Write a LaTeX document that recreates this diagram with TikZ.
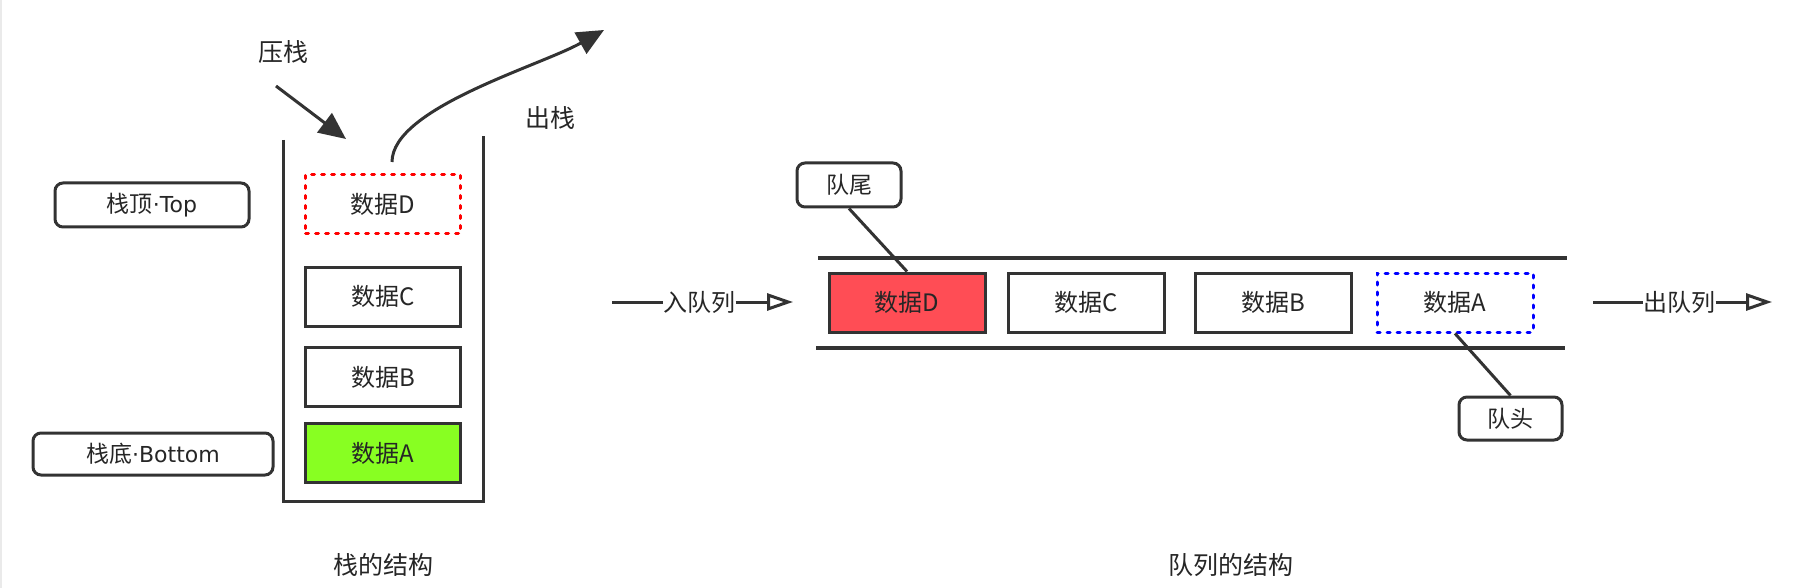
\documentclass[tikz,border=0pt]{standalone}
\usepackage{fontspec}
\setmainfont{Noto Sans CJK SC}
\newfontfamily\latinfont{DejaVu Sans}
\usetikzlibrary{arrows.meta}
\definecolor{ink}{HTML}{333333}
\definecolor{txt}{HTML}{262626}
\definecolor{redfill}{HTML}{FF4D55}
\definecolor{greenfill}{HTML}{88FF22}
\tikzset{
  databox/.style={draw=ink, line width=3pt, minimum width=155pt, minimum height=59pt, inner sep=0pt, font=\fontsize{24}{27}\selectfont, text=txt},
  redtop/.style={databox, draw=red, dash pattern=on 3pt off 7pt, line cap=round},
  bluehead/.style={databox, draw=blue, dash pattern=on 3pt off 7pt, line cap=round},
  callout/.style={draw=ink, line width=3pt, rounded corners=8pt, inner sep=0pt, font=\fontsize{23}{26}\selectfont, text=txt},
  lbl/.style={inner sep=0pt, font=\fontsize{24}{27}\selectfont, text=txt},
  title/.style={inner sep=0pt, font=\fontsize{25}{28}\selectfont, text=txt},
  wire/.style={draw=ink, line width=3pt},
  fillarrow/.style={wire, -{Triangle[length=27pt,width=24pt]}},
  openarrow/.style={wire, -{Triangle[open,length=26pt,width=17pt]}},
}
\begin{document}
\begin{tikzpicture}[x=1pt,y=-1pt]
\useasboundingbox (0,0) rectangle (1802,588);
\fill[white] (0,0) rectangle (1802,588);
\draw[line width=2pt, color={rgb,255:red,234;green,234;blue,234}] (1,0) -- (1,588);

% ---------- stack ----------
\coordinate (wTL) at (283,140);
\coordinate (wBL) at (283,501);
\coordinate (wBR) at (483,501);
\coordinate (wTR) at (483,136);
\draw[wire] (wTL) -- (wBL) -- (wBR) -- (wTR);

\node[redtop] (sD) at (383,204) {数据D};
\node[databox] (sC) at (383,296.5) {数据C};
\node[databox] (sB) at (383,377) {数据B};
\node[databox, fill=greenfill] (sA) at (383,453) {数据A};

\node[callout, minimum width=194pt, minimum height=44pt] (top) at (152,205) {栈顶{\latinfont\fontsize{22}{25}\selectfont ·Top}};
\node[callout, minimum width=240pt, minimum height=42pt] (bottom) at (153,454) {栈底{\latinfont\fontsize{22}{25}\selectfont ·Bottom}};

\node[title] (push) at (283,52) {压栈};
\node[title] (pop) at (550,118) {出栈};
\coordinate (pushS) at (276,86);
\coordinate (pushE) at (346,139);
\draw[fillarrow] (pushS) -- (pushE);
\coordinate (popS) at (392,162);
\coordinate (popE) at (604,30);
\draw[fillarrow] (popS) .. controls (392,108) and (540,66) .. (popE);

\node[title] (stitle) at (383,565) {栈的结构};

% ---------- queue ----------
\coordinate (qTL) at (818,258);
\coordinate (qTR) at (1567,258);
\coordinate (qBL) at (816,348);
\coordinate (qBR) at (1565,348);
\draw[wire, line width=3.5pt] (qTL) -- (qTR);
\draw[wire, line width=3.5pt] (qBL) -- (qBR);

\node[databox, fill=redfill, minimum width=156pt] (qD) at (907,302.5) {数据D};
\node[databox, minimum width=156pt] (qC) at (1086.5,302.5) {数据C};
\node[databox, minimum width=156pt] (qB) at (1273,302.5) {数据B};
\node[bluehead, minimum width=156pt] (qA) at (1455,302.5) {数据A};

\node[callout, minimum width=104pt, minimum height=44pt] (tail) at (849,185) {队尾};
\node[callout, minimum width=103pt, minimum height=43pt] (head) at (1510.5,418.5) {队头};
\draw[wire] (tail.south) -- (qD.north);
\draw[wire] (qA.south) -- (head.north);

\node[lbl] (enq) at (699.5,302) {入队列};
\coordinate (enqS) at (612,302);
\coordinate (enqE) at (793,302);
\draw[wire] (enqS) -- (enq.west);
\draw[openarrow] (enq.east) -- (enqE);

\node[lbl] (deq) at (1679.5,302) {出队列};
\coordinate (deqS) at (1593,302);
\coordinate (deqE) at (1772,302);
\draw[wire] (deqS) -- (deq.west);
\draw[openarrow] (deq.east) -- (deqE);

\node[title] (qtitle) at (1231,565) {队列的结构};
\end{tikzpicture}
\end{document}
